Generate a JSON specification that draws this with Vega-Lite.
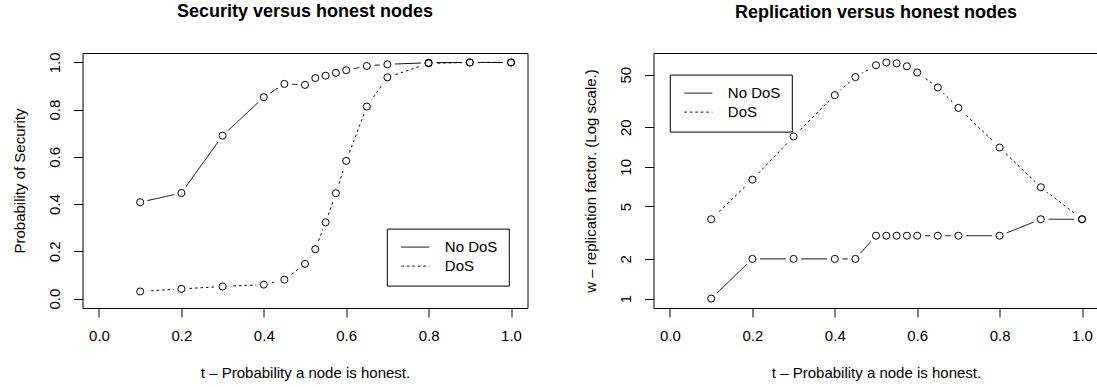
{
  "$schema": "https://vega.github.io/schema/vega-lite/v6.json",
  "background": "white",
  "padding": {"left": 11.5, "top": 2, "right": 0, "bottom": 0},
  "config": {
    "font": "Liberation Sans",
    "view": {"stroke": "black", "strokeWidth": 1},
    "axis": {
      "domain": false,
      "grid": false,
      "tickColor": "black",
      "tickSize": 9,
      "tickWidth": 1,
      "labelFont": "Liberation Sans",
      "labelFontSize": 15,
      "labelColor": "black",
      "titleFont": "Liberation Sans",
      "titleFontSize": 15,
      "titleFontWeight": "normal",
      "titleColor": "black"
    },
    "title": {
      "font": "Liberation Sans",
      "fontSize": 18,
      "fontWeight": "bold",
      "color": "black",
      "anchor": "middle",
      "frame": "group",
      "baseline": "alphabetic",
      "offset": 31
    },
    "legend": {
      "orient": "none",
      "title": null,
      "strokeColor": "black",
      "fillColor": "white",
      "padding": 11,
      "symbolOffset": 10,
      "symbolType": "M-2,0H2",
      "symbolSize": 196,
      "symbolStrokeWidth": 1,
      "symbolStrokeColor": "black",
      "symbolFillColor": "transparent",
      "labelFont": "Liberation Sans",
      "labelFontSize": 15,
      "labelColor": "black",
      "labelOffset": 22,
      "rowPadding": 3
    }
  },
  "datasets": {
    "security": [
      {"t": 0.1, "series": "No DoS", "value": 0.408},
      {"t": 0.2, "series": "No DoS", "value": 0.447},
      {"t": 0.3, "series": "No DoS", "value": 0.690},
      {"t": 0.4, "series": "No DoS", "value": 0.853},
      {"t": 0.45, "series": "No DoS", "value": 0.909},
      {"t": 0.5, "series": "No DoS", "value": 0.905},
      {"t": 0.525, "series": "No DoS", "value": 0.934},
      {"t": 0.55, "series": "No DoS", "value": 0.944},
      {"t": 0.575, "series": "No DoS", "value": 0.956},
      {"t": 0.6, "series": "No DoS", "value": 0.967},
      {"t": 0.65, "series": "No DoS", "value": 0.985},
      {"t": 0.7, "series": "No DoS", "value": 0.992},
      {"t": 0.8, "series": "No DoS", "value": 0.999},
      {"t": 0.9, "series": "No DoS", "value": 1.0},
      {"t": 1.0, "series": "No DoS", "value": 1.0},
      {"t": 0.1, "series": "DoS", "value": 0.030},
      {"t": 0.2, "series": "DoS", "value": 0.041},
      {"t": 0.3, "series": "DoS", "value": 0.051},
      {"t": 0.4, "series": "DoS", "value": 0.059},
      {"t": 0.45, "series": "DoS", "value": 0.080},
      {"t": 0.5, "series": "DoS", "value": 0.147},
      {"t": 0.525, "series": "DoS", "value": 0.209},
      {"t": 0.55, "series": "DoS", "value": 0.323},
      {"t": 0.575, "series": "DoS", "value": 0.446},
      {"t": 0.6, "series": "DoS", "value": 0.583},
      {"t": 0.65, "series": "DoS", "value": 0.813},
      {"t": 0.7, "series": "DoS", "value": 0.937},
      {"t": 0.8, "series": "DoS", "value": 0.996},
      {"t": 0.9, "series": "DoS", "value": 1.0},
      {"t": 1.0, "series": "DoS", "value": 1.0}
    ],
    "replication": [
      {"t": 0.1, "series": "No DoS", "value": 1},
      {"t": 0.2, "series": "No DoS", "value": 2},
      {"t": 0.3, "series": "No DoS", "value": 2},
      {"t": 0.4, "series": "No DoS", "value": 2},
      {"t": 0.45, "series": "No DoS", "value": 2},
      {"t": 0.5, "series": "No DoS", "value": 3},
      {"t": 0.525, "series": "No DoS", "value": 3},
      {"t": 0.55, "series": "No DoS", "value": 3},
      {"t": 0.575, "series": "No DoS", "value": 3},
      {"t": 0.6, "series": "No DoS", "value": 3},
      {"t": 0.65, "series": "No DoS", "value": 3},
      {"t": 0.7, "series": "No DoS", "value": 3},
      {"t": 0.8, "series": "No DoS", "value": 3},
      {"t": 0.9, "series": "No DoS", "value": 4},
      {"t": 1.0, "series": "No DoS", "value": 4},
      {"t": 0.1, "series": "DoS", "value": 4},
      {"t": 0.2, "series": "DoS", "value": 8},
      {"t": 0.3, "series": "DoS", "value": 17},
      {"t": 0.4, "series": "DoS", "value": 35},
      {"t": 0.45, "series": "DoS", "value": 48},
      {"t": 0.5, "series": "DoS", "value": 59},
      {"t": 0.525, "series": "DoS", "value": 62},
      {"t": 0.55, "series": "DoS", "value": 61},
      {"t": 0.575, "series": "DoS", "value": 58},
      {"t": 0.6, "series": "DoS", "value": 52},
      {"t": 0.65, "series": "DoS", "value": 40},
      {"t": 0.7, "series": "DoS", "value": 28},
      {"t": 0.8, "series": "DoS", "value": 14},
      {"t": 0.9, "series": "DoS", "value": 7},
      {"t": 1.0, "series": "DoS", "value": 4}
    ]
  },
  "spacing": 126,
  "bounds": "flush",
  "resolve": {
    "scale": {"strokeDash": "independent"},
    "legend": {"strokeDash": "independent"}
  },
  "hconcat": [
    {
      "width": 445,
      "height": 255,
      "title": {"text": "Security versus honest nodes"},
      "data": {"name": "security"},
      "encoding": {
        "x": {
          "field": "t",
          "type": "quantitative",
          "scale": {"domain": [-0.04, 1.04], "nice": false, "zero": false},
          "axis": {
            "values": [0, 0.2, 0.4, 0.6, 0.8, 1],
            "format": ".1f",
            "labelAlign": "center",
            "labelBaseline": "alphabetic",
            "labelPadding": 23,
            "title": "t – Probability a node is honest.",
            "titleAlign": "center",
            "titleBaseline": "alphabetic",
            "titleX": 222.5,
            "titleY": 69.6
          }
        },
        "y": {
          "field": "value",
          "type": "quantitative",
          "scale": {"domain": [-0.04, 1.04], "nice": false, "zero": false},
          "axis": {
            "values": [0, 0.2, 0.4, 0.6, 0.8, 1],
            "format": ".1f",
            "labelAngle": 270,
            "labelAlign": "center",
            "labelBaseline": "alphabetic",
            "labelPadding": 14,
            "title": "Probability of Security",
            "titleAngle": 270,
            "titleAlign": "center",
            "titleBaseline": "alphabetic",
            "titleX": -58.5,
            "titleY": 127.5
          }
        }
      },
      "layer": [
        {
          "mark": {"type": "line", "color": "black", "strokeWidth": 1},
          "encoding": {
            "strokeDash": {
              "field": "series",
              "type": "nominal",
              "scale": {"domain": ["No DoS", "DoS"], "range": [[1, 0], [2.5, 3]]},
              "legend": {"legendX": 304.3, "legendY": 175.6}
            }
          }
        },
        {"mark": {"type": "circle", "color": "white", "opacity": 1, "size": 240}},
        {"mark": {"type": "point", "shape": "circle", "filled": false, "color": "black", "opacity": 1, "size": 50, "strokeWidth": 1}}
      ]
    },
    {
      "width": 445,
      "height": 255,
      "title": {"text": "Replication versus honest nodes"},
      "data": {"name": "replication"},
      "encoding": {
        "x": {
          "field": "t",
          "type": "quantitative",
          "scale": {"domain": [-0.04, 1.04], "nice": false, "zero": false},
          "axis": {
            "values": [0, 0.2, 0.4, 0.6, 0.8, 1],
            "format": ".1f",
            "labelAlign": "center",
            "labelBaseline": "alphabetic",
            "labelPadding": 23,
            "title": "t – Probability a node is honest.",
            "titleAlign": "center",
            "titleBaseline": "alphabetic",
            "titleX": 222.5,
            "titleY": 69.6
          }
        },
        "y": {
          "field": "value",
          "type": "quantitative",
          "scale": {"type": "log", "domain": [0.848, 73.1], "nice": false, "zero": false},
          "axis": {
            "values": [1, 2, 5, 10, 20, 50],
            "format": "d",
            "labelAngle": 270,
            "labelAlign": "center",
            "labelBaseline": "alphabetic",
            "labelPadding": 14,
            "title": "w – replication factor. (Log scale.)",
            "titleAngle": 270,
            "titleAlign": "center",
            "titleBaseline": "alphabetic",
            "titleX": -58.5,
            "titleY": 127.5
          }
        }
      },
      "layer": [
        {
          "mark": {"type": "line", "color": "black", "strokeWidth": 1},
          "encoding": {
            "strokeDash": {
              "field": "series",
              "type": "nominal",
              "scale": {"domain": ["No DoS", "DoS"], "range": [[1, 0], [2.5, 3]]},
              "legend": {"legendX": 16.3, "legendY": 21.6}
            }
          }
        },
        {"mark": {"type": "circle", "color": "white", "opacity": 1, "size": 240}},
        {"mark": {"type": "point", "shape": "circle", "filled": false, "color": "black", "opacity": 1, "size": 50, "strokeWidth": 1}}
      ]
    }
  ]
}
